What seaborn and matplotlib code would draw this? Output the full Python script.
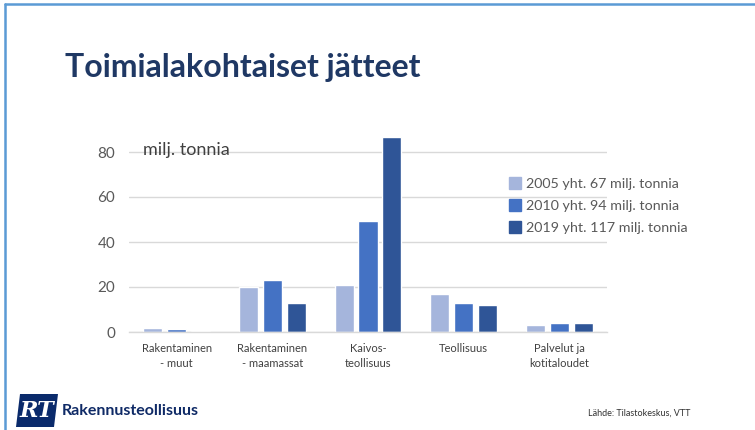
import pandas as pd
import matplotlib.pyplot as plt
import seaborn as sns
from matplotlib.patches import Polygon
from matplotlib.lines import Line2D

# data (milj. tonnia)
categories = ["Rakentaminen\n- muut", "Rakentaminen\n- maamassat", "Kaivos-\nteollisuus",
              "Teollisuus", "Palvelut ja\nkotitaloudet"]
years = ["2005 yht. 67 milj. tonnia", "2010 yht. 94 milj. tonnia", "2019 yht. 117 milj. tonnia"]
v2005 = [1.8, 19.8, 21.1, 17.0, 3.0]
v2010 = [1.3, 22.9, 49.4, 12.7, 4.1]
v2019 = [0.5, 13.1, 86.5, 11.8, 4.1]
yticks = [0, 20, 40, 60, 80]

colors = ["#A5B5DC", "#4472C4", "#2F5597"]

rows = []
for year, vals in zip(years, [v2005, v2010, v2019]):
    for cat, v in zip(categories, vals):
        rows.append({"cat": cat, "year": year, "value": v})
df = pd.DataFrame(rows)

sns.set_style("white")
plt.rcParams['font.family'] = ['Lato', 'DejaVu Sans']

fig = plt.figure(figsize=(7.55, 4.30), dpi=100)
ax = fig.add_axes([129 / 755, 1 - 332 / 430, 478 / 755, 202.5 / 430])

sns.barplot(data=df, x="cat", y="value", hue="year", order=categories, hue_order=years,
            palette=colors, width=0.75, gap=0.2, saturation=1, ax=ax, legend=False)

ax.set_ylim(0, 90)
ax.set_yticks(yticks)
ax.set_xlim(-0.5, len(categories) - 0.5)
ax.yaxis.grid(True, color="#D9D9D9", linewidth=1)
ax.set_axisbelow(True)
for s in ["top", "right", "left"]:
    ax.spines[s].set_visible(False)
ax.spines["bottom"].set_color("#D9D9D9")
ax.spines["bottom"].set_linewidth(1)
ax.set_xlabel("")
ax.set_ylabel("")
ax.tick_params(axis="y", length=0, labelsize=11, labelcolor="#595959", pad=10)
ax.tick_params(axis="x", length=0, labelsize=8, labelcolor="#404040", pad=8)
for lab in ax.get_xticklabels():
    lab.set_verticalalignment("top")
    lab.set_linespacing(1.4)

ax.text(143 / 755, 1 - 150 / 430, "milj. tonnia", transform=fig.transFigure,
        fontsize=13, color="#404040", va="center", ha="left")

handles = [Line2D([], [], marker="s", linestyle="", markersize=8, color=c) for c in colors]
fig.legend(handles, years, loc="upper left", bbox_to_anchor=(502 / 755, 1 - 172 / 430),
           frameon=False, fontsize=10.3, labelcolor="#595959", handletextpad=0.3,
           labelspacing=0.72, borderaxespad=0, handlelength=1.0)

# title and footer
fig.text(65 / 755, 1 - 68 / 430, "Toimialakohtaiset jätteet", fontsize=23, fontweight="bold",
         color="#1F3864", va="center", ha="left")
fig.text(62 / 755, 1 - 411 / 430, "Rakennusteollisuus", fontsize=11.5, fontweight="bold",
         color="#0F2A66", va="center", ha="left")
fig.text(588 / 755, 1 - 413 / 430, "Lähde: Tilastokeskus, VTT", fontsize=6.5,
         color="#333333", va="center", ha="left")

# RT logo
logo = Polygon([(16 / 755, 1 - 427 / 430), (54 / 755, 1 - 427 / 430),
                (58 / 755, 1 - 394 / 430), (20 / 755, 1 - 394 / 430)],
               closed=True, transform=fig.transFigure, facecolor="#0A2A6B", edgecolor="none")
fig.patches.append(logo)
fig.text(37 / 755, 1 - 411 / 430, "RT", fontsize=16, fontweight="bold", style="italic",
         color="white", va="center", ha="center", family="DejaVu Serif")

# slide border
fig.add_artist(Line2D([5 / 755, 1], [1 - 4 / 430, 1 - 4 / 430], transform=fig.transFigure,
                      color="#5B9BD5", linewidth=1.8))
fig.add_artist(Line2D([5 / 755, 5 / 755], [0, 1 - 4 / 430], transform=fig.transFigure,
                      color="#5B9BD5", linewidth=1.8))

fig.savefig("out.png", dpi=100)
